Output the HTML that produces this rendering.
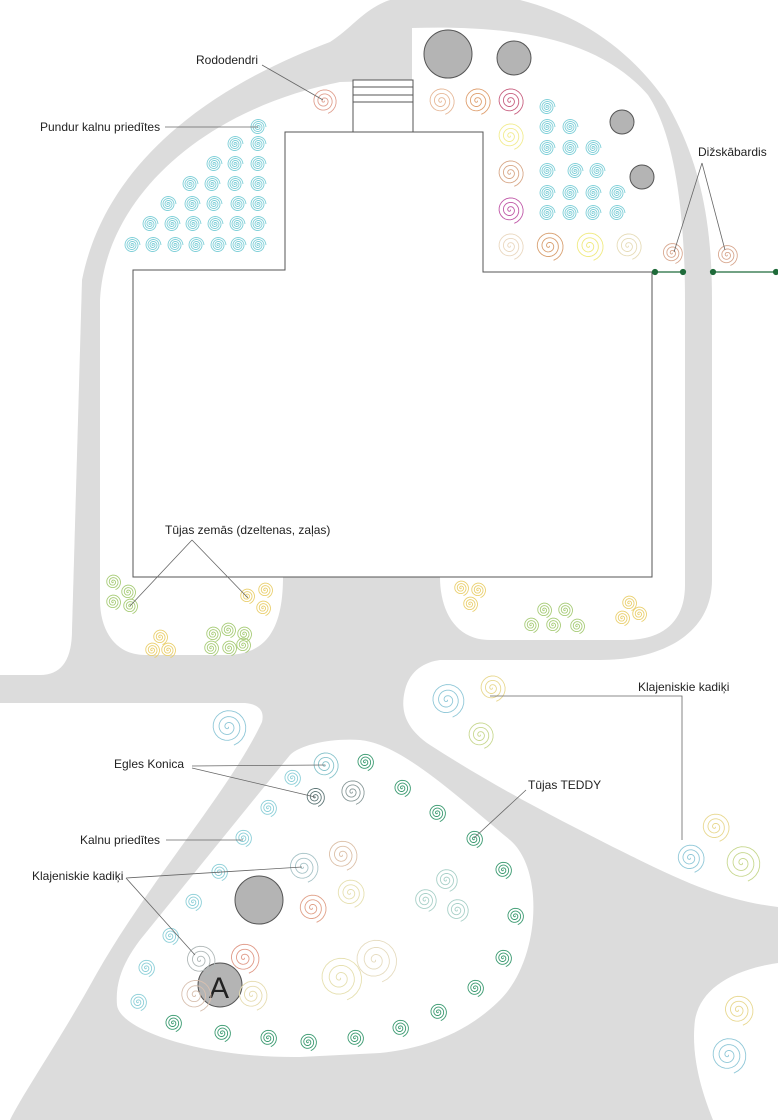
<!DOCTYPE html>
<html><head><meta charset="utf-8"><style>
html,body{margin:0;padding:0;background:#fff}
svg{display:block}
text{font-family:"Liberation Sans",Arial,sans-serif;font-size:12px;fill:#222}
</style></head><body>
<svg id="s" width="778" height="1120" viewBox="0 0 778 1120" xmlns="http://www.w3.org/2000/svg">
<rect width="778" height="1120" fill="#dcdcdc"/>
<g fill="#fff">
<path d="M0,0 L390,0 C365,8 352,28 330,42 C250,72 110,140 82,280 L72,630 Q72,675 40,675 L0,675 Z"/>
<path d="M520,0 L778,0 L778,700 L600,700 L600,660 C665,660 712,632 712,580 L712,300 C712,220 700,160 665,100 C630,50 580,15 520,0 Z"/>
<path d="M100,600 L100,300 C105,200 200,110 340,82 L412,80 L412,28 C520,25 600,40 648,95 C678,140 685,230 685,300 L685,585 C685,620 665,640 625,640 L490,640 C455,640 440,610 440,577 L283,577 C283,635 262,655 225,655 L145,655 C115,655 100,630 100,600 Z"/>
<path d="M0,703 L245,703 Q266,705 262,722 C230,790 150,880 97,973 C60,1040 25,1090 10,1120 L0,1120 Z"/>
<path d="M290,755 C300,745 330,738 360,740 C400,744 450,790 510,840 C545,870 540,960 500,1000 C460,1040 410,1050 380,1053 L300,1057 C200,1058 120,1030 117,1005 C115,980 125,960 140,940 Z"/>
<path d="M440,660 L778,660 L778,907 C720,900 680,880 613,847 C560,820 500,790 430,745 C405,728 400,710 405,690 C410,670 425,662 440,660 Z"/>
<path d="M778,963 C730,970 700,990 695,1020 C690,1060 705,1100 713,1120 L778,1120 Z"/>
</g>
<g fill="none" stroke="#555" stroke-width="1">
<path d="M133,577 L133,270 L285,270 L285,132 L483,132 L483,272 L652,272 L652,577 Z"/>
<rect x="353" y="80" width="60" height="52" fill="#fff"/>
<path d="M353,87 H413 M353,95 H413 M353,102 H413"/>
</g>
<g stroke="#1f6b3a" stroke-width="1.2" fill="#1f6b3a">
<line x1="652" y1="272" x2="683" y2="272"/><line x1="713" y1="272" x2="776" y2="272"/>
<circle cx="655" cy="272" r="2.5"/><circle cx="683" cy="272" r="2.5"/><circle cx="713" cy="272" r="2.5"/><circle cx="776" cy="272" r="2.5"/>
</g>
<g fill="#b4b4b4" stroke="#555" stroke-width="1">
<circle cx="448" cy="54" r="24"/><circle cx="514" cy="58" r="17"/><circle cx="622" cy="122" r="12"/><circle cx="642" cy="177" r="12"/>
<circle cx="259" cy="900" r="24"/><circle cx="220" cy="985" r="22"/>
</g>
<text x="209" y="998" style="font-size:30px;fill:#222">A</text>
<g id="sp" fill="none" stroke-width="0.9"></g>
<g stroke="#666" stroke-width="0.8" fill="none">
<path d="M262,65 L323,100"/>
<path d="M165,127 L258,127"/>
<path d="M702,163 L674,252 M702,163 L725,250"/>
<path d="M192,540 L130,606 M192,540 L248,598"/>
<path d="M490,696 L682,696 L682,840"/>
<path d="M526,790 L474,838"/>
<path d="M192,766 L325,765 M192,768 L315,797"/>
<path d="M166,840 L243,840"/>
<path d="M126,878 L302,867 M126,878 L195,955"/>
</g>
<text x="196" y="64">Rododendri</text>
<text x="40" y="131">Pundur kalnu priedītes</text>
<text x="698" y="156">Dižskābardis</text>
<text x="165" y="534">Tūjas zemās (dzeltenas, zaļas)</text>
<text x="638" y="691">Klajeniskie kadiķi</text>
<text x="528" y="789">Tūjas TEDDY</text>
<text x="114" y="768">Egles Konica</text>
<text x="80" y="844">Kalnu priedītes</text>
<text x="32" y="880">Klajeniskie kadiķi</text>
</svg>
<script>
var g=document.getElementById('sp');
function sp(cx,cy,R,c,turns){turns=turns||3.2;var d='',N=Math.round(turns*24);for(var i=0;i<=N;i++){var t=i/N*turns*2*Math.PI;var r=R*i/N;var x=cx+r*Math.cos(t),y=cy+r*Math.sin(t);d+=(i?'L':'M')+x.toFixed(1)+','+y.toFixed(1);}
var p=document.createElementNS('http://www.w3.org/2000/svg','path');p.setAttribute('d',d);p.setAttribute('stroke',c);g.appendChild(p);}
var C='#7fcfd8';
var rows=[[127,[258]],[144,[235,258]],[164,[214,235,258]],[184,[190,212,235,258]],[204,[168,192,214,238,258]],[224,[150,172,193,215,237,258]],[245,[132,153,175,196,218,238,258]]];
rows.forEach(function(r){r[1].forEach(function(x){sp(x,r[0],8,C,4);});});
var rr=[[107,[547]],[127,[547,570]],[148,[547,570,593]],[171,[547,575,597]],[193,[547,570,593,617]],[213,[547,570,593,617]]];
rr.forEach(function(r){r[1].forEach(function(x){sp(x,r[0],8,C,4);});});
sp(324,101,13,'#e0a090');
sp(441,101,14,'#e6b898');sp(477,101,14,'#dfa070');sp(510,101,14,'#c86080');
sp(510,136,14,'#f2ec90');sp(510,173,14,'#d8a888');sp(510,210,14,'#c058a8');
sp(510,246,14,'#ead8c0');sp(549,246,15,'#d8a070');sp(589,246,15,'#f0ea80');sp(628,246,14,'#e6dcb8');
sp(672,253,11,'#d8a890');sp(727,255,11,'#d8a890');
var G='#a8cc78',Y='#ead070';
[[113,582],[128,592],[113,602],[130,606]].forEach(function(p){sp(p[0],p[1],8,G);});
[[247,596],[265,590],[263,608]].forEach(function(p){sp(p[0],p[1],8,Y);});
[[160,637],[152,650],[168,650]].forEach(function(p){sp(p[0],p[1],8,Y);});
[[213,634],[228,630],[244,634],[211,648],[229,648],[243,645]].forEach(function(p){sp(p[0],p[1],8,G);});
[[461,588],[478,590],[470,604],[629,603],[622,618],[639,614]].forEach(function(p){sp(p[0],p[1],8,Y);});
[[544,610],[565,610],[531,625],[553,625],[577,626]].forEach(function(p){sp(p[0],p[1],8,G);});
sp(447,700,18,'#90c8d8');sp(492,688,14,'#e8d890');sp(480,735,14,'#c8d890');
sp(690,858,15,'#90c8d8');sp(715,827,15,'#e8d890');sp(742,863,19,'#c8d890');
sp(738,1010,16,'#e8d890');sp(728,1055,19,'#90c8d8');
sp(228,727,19,'#90c8d8');
var T='#3a9a70',CB='#8ccfd8';
[[365,762],[402,788],[437,813],[474,839],[503,870],[515,916],[503,958],[475,988],[438,1012],[400,1028],[355,1038],[308,1042],[268,1038],[222,1033],[173,1023]].forEach(function(p){sp(p[0],p[1],9,T);});
[[292,778],[268,808],[243,838],[219,872],[193,902],[170,936],[146,968],[138,1002]].forEach(function(p){sp(p[0],p[1],9,CB);});
sp(325,765,14,'#88c4cc');sp(315,797,10,'#607878');sp(352,792,13,'#8a9a9a');
sp(303,867,16,'#a8c4c8');sp(342,855,16,'#dcc0a8');sp(350,893,15,'#e6e0b0');sp(312,908,15,'#e0a088');
sp(446,880,12,'#a8d0c8');sp(425,900,12,'#a8d0c8');sp(457,910,12,'#a8d0c8');
sp(200,960,16,'#b0b8b8');sp(244,958,16,'#e09a88');sp(195,995,17,'#d8c0b0');sp(252,995,16,'#e6dcb0');
sp(340,978,23,'#e6e0b0');sp(375,960,23,'#e6dcc0');
</script>
</body></html>
